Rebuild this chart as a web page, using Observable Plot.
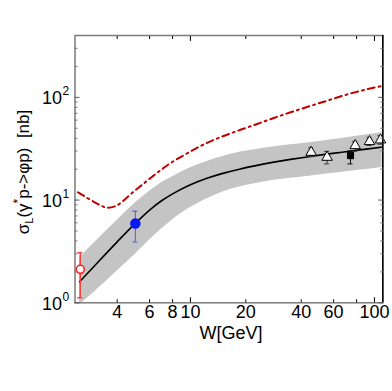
<!DOCTYPE html>
<html>
<head>
<meta charset="utf-8">
<script src="https://cdn.jsdelivr.net/npm/d3@7"></script>
<script src="https://cdn.jsdelivr.net/npm/@observablehq/plot@0.6"></script>
<style>
  html, body { margin: 0; padding: 0; background: #fff; overflow: hidden; }
  #chart svg { display: block; }
</style>
</head>
<body>
<div id="chart"></div>
<script>
// ---- data ----
// model curve (solid) and its uncertainty band
const W_fit    = [2.5, 3, 4, 5, 6, 7, 8, 10, 12.3, 15, 18.7, 22, 28.4, 35, 43, 55, 65, 80, 95, 110];
const sig_fit  = [1.6, 2.27, 3.92, 5.9, 8.0, 9.9, 11.5, 14.1, 16.3, 18.2, 20.1, 21.4, 23.4, 24.9, 26.3, 28.0, 29.1, 30.5, 31.7, 32.8];
const band_hi  = [2.74, 3.81, 6.35, 9.32, 12.2, 14.85, 16.9, 20.6, 23.8, 26.6, 29.3, 30.8, 33.0, 34.6, 36.0, 38.1, 39.6, 41.8, 43.7, 45.6];
const band_lo  = [0.96, 1.27, 2.04, 2.95, 4.08, 5.25, 6.44, 8.46, 10.3, 12.0, 13.5, 14.3, 15.6, 16.3, 17.0, 17.9, 18.6, 19.4, 20.1, 20.8];
// dash-dotted curve
const W_dd     = [2.45, 2.8, 3.2, 3.55, 4.0, 4.5, 5.0, 5.5, 6.2, 7.0, 8.0, 9.1, 10.5, 12.3, 15, 18.7, 23, 28.4, 35, 43, 55, 65.3, 80, 95, 110];
const sig_dd   = [11.9, 10.3, 9.0, 8.4, 8.9, 10.5, 12.4, 14.2, 16.9, 20.0, 23.6, 27.0, 31.2, 36.0, 41.8, 48.3, 55, 63, 71.5, 80.5, 92.5, 102, 113, 122, 129];
// data points
const W_red = [2.52],  s_red = [2.12],  lo_red = [1.12],  hi_red = [3.08];
const W_blue = [5.02], s_blue = [5.9],  lo_blue = [3.91], hi_blue = [7.8];
const W_tri  = [45.3, 55.3, 78.6, 94, 107.9];
const s_tri  = [29.2, 26.1, 33.9, 37.1, 38.5];
const lo_tri = [26.5, 22.5, 29.8, 34.0, 35.0];
const hi_tri = [32.2, 29.8, 37.1, 40.8, 42.3];
const W_sq = [74.1], s_sq = [27.1], lo_sq = [22.5], hi_sq = [30.0];
// ticks
const xTicksMajor = [10, 100];
const xTicksMinor = [4, 6, 8, 20, 40, 60, 80];
const xTickLabels = [4, 6, 8, 10, 20, 40, 60, 100];
const yTicksMajor = [1, 10, 100];
const yTickExp    = ["0", "1", "2"];
const yTicksMinor = [2,3,4,5,6,7,8,9,20,30,40,50,60,70,80,90,200,300];

// ---- tables ----
const fit = W_fit.map((w, i) => ({W: w, s: sig_fit[i], hi: band_hi[i], lo: band_lo[i]}));
const dd = W_dd.map((w, i) => ({W: w, s: sig_dd[i]}));
const mk = (W, s, lo, hi) => W.map((w, i) => ({W: w, s: s[i], lo: lo[i], hi: hi[i]}));
const red = mk(W_red, s_red, lo_red, hi_red);
const blue = mk(W_blue, s_blue, lo_blue, hi_blue);
const tri = mk(W_tri, s_tri, lo_tri, hi_tri);
const sq = mk(W_sq, s_sq, lo_sq, hi_sq);
const yMaj = yTicksMajor.map((v, i) => ({v, e: yTickExp[i]}));

function errBars(data, color, width) {
  return [
    Plot.ruleX(data, {x: "W", y1: "lo", y2: "hi", stroke: color, strokeWidth: width}),
    Plot.ruleY(data, {y: "hi", x1: "W", x2: "W", insetLeft: -2.5, insetRight: -2.5, stroke: color, strokeWidth: width}),
    Plot.ruleY(data, {y: "lo", x1: "W", x2: "W", insetLeft: -2.5, insetRight: -2.5, stroke: color, strokeWidth: width})
  ];
}

const font = "'Liberation Sans', Arial, Helvetica, sans-serif";
const tickOpts = {tickFormat: () => "", label: null};

const chart = Plot.plot({
  width: 392,
  height: 391,
  marginLeft: 74.5,
  marginRight: 9.7,
  marginTop: 35,
  marginBottom: 88.7,
  style: {fontFamily: font, fontSize: "18px", color: "#000", background: "#fff"},
  x: {type: "log", domain: [2.36, 111], axis: null},
  y: {type: "log", domain: [1, 400], axis: null},
  marks: [
    Plot.areaY(fit, {x: "W", y1: "lo", y2: "hi", fill: "#c4c4c4", curve: "monotone-x", clip: true}),
    Plot.line(dd, {x: "W", y: "s", stroke: "#c00000", strokeWidth: 2, strokeDasharray: "7,4,2,4", curve: "monotone-x"}),
    Plot.line(fit, {x: "W", y: "s", stroke: "#000", strokeWidth: 1.6, curve: "monotone-x"}),
    ...errBars(red, "#f04040", 1.5),
    ...errBars(blue, "#4a5ae0", 1),
    ...errBars(tri, "#333", 1),
    ...errBars(sq, "#000", 1),
    Plot.dot(red, {x: "W", y: "s", r: 4, fill: "#fff", stroke: "#ff1a1a", strokeWidth: 1.5}),
    Plot.dot(blue, {x: "W", y: "s", r: 5, fill: "#0818f0", stroke: "#0818f0", strokeWidth: 0.5}),
    Plot.dot(sq, {x: "W", y: "s", r: 4, symbol: "square", fill: "#000"}),
    Plot.dot(tri, {x: "W", y: "s", r: 3.9, symbol: "triangle", fill: "#fff", stroke: "#000", strokeWidth: 1}),
    // frame
    Plot.frame({stroke: "#7a7a7a", strokeWidth: 1.5}),
    Plot.ruleX([111], {stroke: "#000", strokeWidth: 1.5}),
    // ticks (inward)
    Plot.axisY(yTicksMajor, {anchor: "left", tickSize: -5, stroke: "#555", ...tickOpts}),
    Plot.axisY(yTicksMinor, {anchor: "left", tickSize: -3, stroke: "#777", ...tickOpts}),
    Plot.axisY(yTicksMajor, {anchor: "right", tickSize: -5, stroke: "#555", ...tickOpts}),
    Plot.axisY(yTicksMinor, {anchor: "right", tickSize: -3, stroke: "#777", ...tickOpts}),
    Plot.axisX(xTicksMajor, {anchor: "bottom", tickSize: -5, stroke: "#000", ...tickOpts}),
    Plot.axisX(xTicksMinor, {anchor: "bottom", tickSize: -3, stroke: "#000", ...tickOpts}),
    Plot.axisX(xTicksMajor, {anchor: "top", tickSize: -5, stroke: "#000", ...tickOpts}),
    Plot.axisX(xTicksMinor, {anchor: "top", tickSize: -3, stroke: "#000", ...tickOpts}),
    // tick labels
    Plot.text(xTickLabels, {x: d => d, frameAnchor: "bottom", dy: 15.5, text: d => String(d), fontSize: 18, fill: "#000"}),
    Plot.text(yMaj, {y: "v", frameAnchor: "left", dx: -13, dy: 1, text: () => "10", textAnchor: "end", fontSize: 18, fill: "#000"}),
    Plot.text(yMaj, {y: "v", frameAnchor: "left", dx: -12.5, dy: -6, text: "e", textAnchor: "start", fontSize: 12, fill: "#000"}),
    // x axis title
    Plot.text(["W[GeV]"], {frameAnchor: "bottom", dy: 36, dx: 2, text: d => d, fontSize: 18, fill: "#000"})
  ]
});

document.getElementById("chart").appendChild(chart);

// y axis title with subscript/superscript
const svg = d3.select(chart.tagName.toLowerCase() === "svg" ? chart : chart.querySelector("svg"));
const t = svg.append("text")
  .attr("transform", "translate(29,172) rotate(-90)")
  .attr("text-anchor", "middle")
  .attr("font-family", font)
  .attr("font-size", 17)
  .attr("fill", "#000");
t.append("tspan").text("σ");
t.append("tspan").attr("font-size", 11).attr("dy", 4).text("L");
t.append("tspan").attr("dy", -4).text("(γ");
t.append("tspan").attr("font-size", 12).attr("dy", -7).text("*");
t.append("tspan").attr("dy", 7).text("p->φp)  [nb]");
</script>
</body>
</html>
